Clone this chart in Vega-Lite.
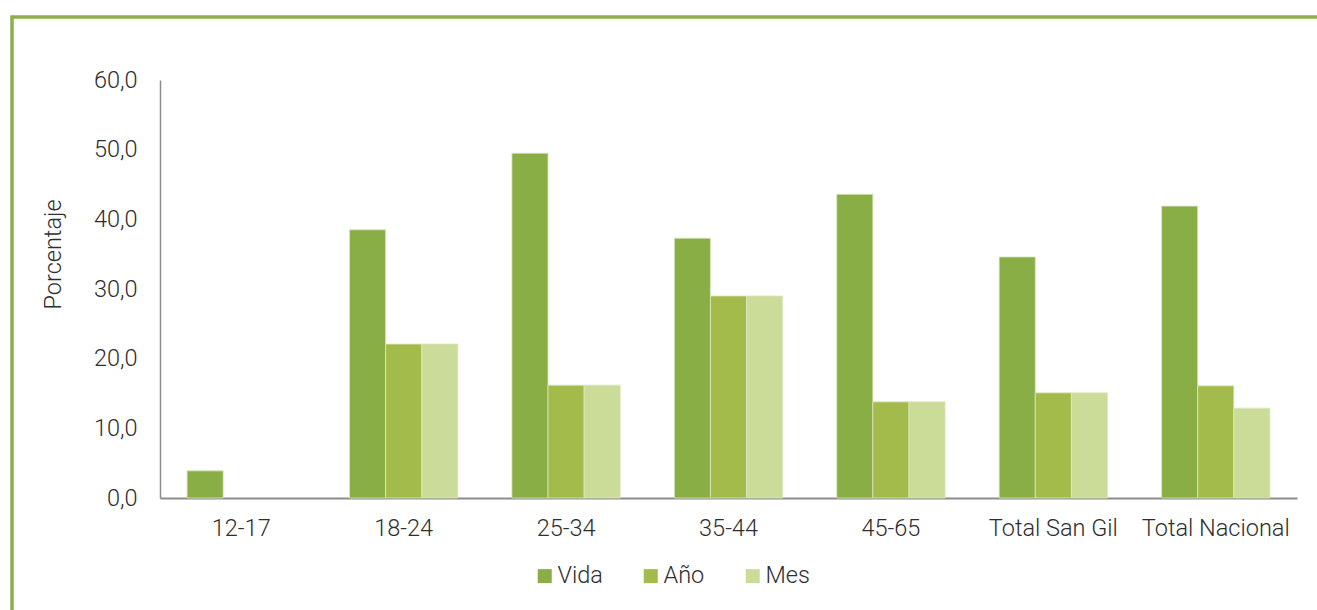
{
  "$schema": "https://vega.github.io/schema/vega-lite/v6.json",
  "width": 1330,
  "height": 620,
  "autosize": "none",
  "padding": {"left": 12, "top": 17, "right": 0, "bottom": 0},
  "background": "#ffffff",
  "config": {
    "view": {"stroke": "#8BB04A", "strokeWidth": 3.5, "fill": null},
    "font": "Roboto",
    "axis": {"labelFont": "Roboto", "titleFont": "Roboto"},
    "legend": {"labelFont": "Roboto"}
  },
  "data": {
    "values": [
      {"grupo": "12-17", "tipo": "Vida", "valor": 3.9},
      {"grupo": "18-24", "tipo": "Vida", "valor": 38.5},
      {"grupo": "18-24", "tipo": "Año", "valor": 22.1},
      {"grupo": "18-24", "tipo": "Mes", "valor": 22.1},
      {"grupo": "25-34", "tipo": "Vida", "valor": 49.5},
      {"grupo": "25-34", "tipo": "Año", "valor": 16.2},
      {"grupo": "25-34", "tipo": "Mes", "valor": 16.2},
      {"grupo": "35-44", "tipo": "Vida", "valor": 37.3},
      {"grupo": "35-44", "tipo": "Año", "valor": 29.0},
      {"grupo": "35-44", "tipo": "Mes", "valor": 29.0},
      {"grupo": "45-65", "tipo": "Vida", "valor": 43.6},
      {"grupo": "45-65", "tipo": "Año", "valor": 13.8},
      {"grupo": "45-65", "tipo": "Mes", "valor": 13.8},
      {"grupo": "Total San Gil", "tipo": "Vida", "valor": 34.6},
      {"grupo": "Total San Gil", "tipo": "Año", "valor": 15.1},
      {"grupo": "Total San Gil", "tipo": "Mes", "valor": 15.1},
      {"grupo": "Total Nacional", "tipo": "Vida", "valor": 41.9},
      {"grupo": "Total Nacional", "tipo": "Año", "valor": 16.1},
      {"grupo": "Total Nacional", "tipo": "Mes", "valor": 12.9}
    ]
  },
  "mark": {"type": "bar", "stroke": "#dbe8c2", "strokeWidth": 0.8},
  "encoding": {
    "x": {
      "field": "grupo",
      "type": "nominal",
      "sort": null,
      "scale": {"range": [148, 1285], "paddingInner": 0.333, "paddingOuter": 0.1667},
      "axis": {
        "orient": "bottom",
        "offset": -139,
        "title": null,
        "labelAngle": 0,
        "labelFontSize": 23.5,
        "labelFontWeight": 300,
        "labelColor": "#2e2e2e",
        "labelPadding": 18,
        "ticks": false,
        "domainColor": "#8c8c8c",
        "domainWidth": 2,
        "grid": false
      }
    },
    "xOffset": {"field": "tipo", "type": "nominal", "sort": ["Vida", "Año", "Mes"], "scale": {"paddingInner": 0, "paddingOuter": 0}},
    "y": {
      "field": "valor",
      "type": "quantitative",
      "scale": {"domain": [0, 60], "range": [481, 63], "nice": false},
      "axis": {
        "orient": "left",
        "offset": -148,
        "values": [0, 10, 20, 30, 40, 50, 60],
        "labelExpr": "replace(format(datum.value, '.1f'), '.', ',')",
        "title": "Porcentaje",
        "titleFontSize": 23.5,
        "titleFontWeight": 300,
        "titleColor": "#2e2e2e",
        "titleX": -107,
        "titleY": 237,
        "titleAngle": 270,
        "titleAlign": "center",
        "titleBaseline": "middle",
        "labelFontSize": 23.5,
        "labelFontWeight": 300,
        "labelColor": "#2e2e2e",
        "labelPadding": 23,
        "ticks": false,
        "grid": false,
        "domainColor": "#8c8c8c",
        "domainWidth": 1.5
      }
    },
    "color": {
      "field": "tipo",
      "type": "nominal",
      "sort": ["Vida", "Año", "Mes"],
      "scale": {"domain": ["Vida", "Año", "Mes"], "range": ["#8AAE46", "#A2BB4B", "#CBDB98"]},
      "legend": {
        "orient": "none",
        "direction": "horizontal",
        "legendX": 521,
        "legendY": 547,
        "title": null,
        "symbolType": "square",
        "symbolSize": 196,
        "symbolStrokeWidth": 0,
        "labelFontSize": 23.5,
        "labelFontWeight": 300,
        "labelColor": "#2e2e2e",
        "labelOffset": 1,
        "columnPadding": 36,
        "padding": 0
      }
    }
  }
}
